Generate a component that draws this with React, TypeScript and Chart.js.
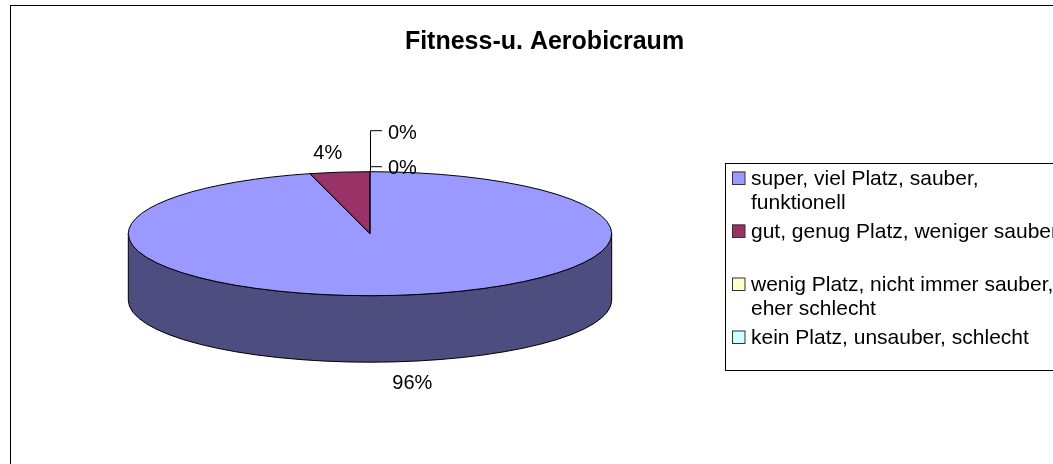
import React, { useEffect, useRef } from "react";
import { Chart, registerables } from "chart.js";

Chart.register(...registerables);

const chartTitle = "Fitness-u. Aerobicraum";
const categories = [
  "super, viel Platz, sauber, funktionell",
  "gut, genug Platz, weniger sauber",
  "wenig Platz, nicht immer sauber, eher schlecht",
  "kein Platz, unsauber, schlecht",
];
const legendLines = [
  ["super, viel Platz, sauber,", "funktionell"],
  ["gut, genug Platz, weniger sauber"],
  ["wenig Platz, nicht immer sauber,", "eher schlecht"],
  ["kein Platz, unsauber, schlecht"],
];
const values = [96, 4, 0, 0];
const percentLabels = ["96%", "4%", "0%", "0%"];
const sliceColors = ["#9999FF", "#993366", "#FFFFCC", "#CCFFFF"];

const FONT = '"Liberation Sans", Arial, sans-serif';
const TILT = 62 / 241.7;
const DEPTH = 66.5;
const TWO_PI = Math.PI * 2;

function shade(hex: string, f: number) {
  const n = parseInt(hex.slice(1), 16);
  const r = Math.round(((n >> 16) & 255) * f);
  const g = Math.round(((n >> 8) & 255) * f);
  const b = Math.round((n & 255) * f);
  return `rgb(${r},${g},${b})`;
}

const pie3d = {
  id: "pie3d",
  beforeDraw(chart: any) {
    const ctx = chart.ctx;
    ctx.save();
    ctx.fillStyle = "#ffffff";
    ctx.fillRect(0, 0, chart.width, chart.height);
    ctx.strokeStyle = "#000000";
    ctx.lineWidth = 1;
    ctx.strokeRect(10.5, 5.5, 1200, 600);
    ctx.restore();
  },
  beforeDatasetsDraw(chart: any) {
    const ctx = chart.ctx;
    const arcs = chart.getDatasetMeta(0).data;
    if (!arcs.length) return;
    const cx = arcs[0].x;
    const cy = arcs[0].y;
    const rx = arcs[0].outerRadius;
    const ry = rx * TILT;
    ctx.save();
    ctx.lineWidth = 1;
    ctx.strokeStyle = "#000000";
    arcs.forEach((arc: any, i: number) => {
      const s = arc.startAngle;
      const e = arc.endAngle;
      if (e - s <= 1e-6) return;
      for (let n = -1; n <= 1; n++) {
        const lo = Math.max(s, n * TWO_PI);
        const hi = Math.min(e, n * TWO_PI + Math.PI);
        if (hi - lo > 1e-6) {
          const a = lo - n * TWO_PI;
          const b = hi - n * TWO_PI;
          ctx.beginPath();
          ctx.moveTo(cx + rx * Math.cos(a), cy + ry * Math.sin(a));
          ctx.ellipse(cx, cy, rx, ry, 0, a, b, false);
          ctx.lineTo(cx + rx * Math.cos(b), cy + ry * Math.sin(b) + DEPTH);
          ctx.ellipse(cx, cy + DEPTH, rx, ry, 0, b, a, true);
          ctx.closePath();
          ctx.fillStyle = shade(sliceColors[i], 0.5);
          ctx.fill();
          ctx.stroke();
        }
      }
    });
    ctx.restore();
    ctx.save();
    ctx.translate(cx, cy);
    ctx.scale(1, TILT);
    ctx.translate(-cx, -cy);
  },
  afterDatasetsDraw(chart: any) {
    const ctx = chart.ctx;
    ctx.restore();
    const arcs = chart.getDatasetMeta(0).data;
    if (!arcs.length) return;
    const cx = arcs[0].x;
    const cy = arcs[0].y;
    const rx = arcs[0].outerRadius;
    const ry = rx * TILT;

    ctx.save();
    ctx.lineWidth = 1;
    ctx.strokeStyle = "#000000";
    arcs.forEach((arc: any) => {
      const s = arc.startAngle;
      const e = arc.endAngle;
      if (e - s <= 1e-6) return;
      ctx.beginPath();
      ctx.moveTo(cx, cy);
      ctx.lineTo(cx + rx * Math.cos(s), cy + ry * Math.sin(s));
      ctx.ellipse(cx, cy, rx, ry, 0, s, e, false);
      ctx.closePath();
      ctx.stroke();
    });

    // percent labels
    ctx.fillStyle = "#000000";
    ctx.font = `20px ${FONT}`;
    ctx.textBaseline = "alphabetic";
    let zeroIdx = 0;
    arcs.forEach((arc: any, i: number) => {
      const s = arc.startAngle;
      const e = arc.endAngle;
      const m = (s + e) / 2;
      const px = cx + rx * Math.cos(m);
      let py = cy + ry * Math.sin(m);
      if (e - s <= 1e-6) {
        ctx.strokeStyle = "#000000";
        ctx.beginPath();
        if (zeroIdx === 0) {
          ctx.moveTo(px + 0.5, py);
          ctx.lineTo(px + 0.5, py - 41);
          ctx.lineTo(px + 12, py - 41);
          ctx.stroke();
          ctx.textAlign = "left";
          ctx.fillText(percentLabels[i], px + 18, py - 33);
        } else {
          ctx.moveTo(px + 0.5, py - 5);
          ctx.lineTo(px + 12, py - 5);
          ctx.stroke();
          ctx.textAlign = "left";
          ctx.fillText(percentLabels[i], px + 18, py + 2);
        }
        zeroIdx++;
        return;
      }
      if (Math.sin(m) > 0) py += DEPTH;
      const lx = px + 12 * Math.sign(Math.cos(m));
      const ly = py + 20 * Math.sign(Math.sin(m));
      ctx.textAlign = "center";
      ctx.fillText(percentLabels[i], lx, ly + 7);
    });

    // title
    ctx.font = `bold 25px ${FONT}`;
    ctx.textAlign = "center";
    ctx.fillText(chartTitle, 544.5, 49);

    // legend
    ctx.strokeStyle = "#000000";
    ctx.lineWidth = 1;
    ctx.strokeRect(725.5, 163.5, 600, 207);
    ctx.font = `21px ${FONT}`;
    ctx.textAlign = "left";
    legendLines.forEach((lines, i) => {
      const y0 = 178 + i * 53;
      ctx.fillStyle = sliceColors[i];
      ctx.fillRect(732, y0 - 6.5, 13, 13);
      ctx.strokeStyle = "#333333";
      ctx.strokeRect(732.5, y0 - 6, 12.5, 12.5);
      ctx.fillStyle = "#000000";
      lines.forEach((t, j) => {
        ctx.fillText(t, 751, y0 + 7 + j * 24);
      });
    });
    ctx.restore();
  },
};

export default function App() {
  const ref = useRef<HTMLCanvasElement>(null);
  useEffect(() => {
    if (!ref.current) return;
    const chart = new Chart(ref.current, {
      type: "pie",
      data: {
        labels: categories,
        datasets: [
          {
            data: values,
            backgroundColor: sliceColors,
            borderWidth: 0,
            radius: 241.7,
            clip: false as any,
          } as any,
        ],
      },
      options: {
        animation: false,
        responsive: false,
        devicePixelRatio: 1,
        events: [],
        rotation: 0,
        layout: { padding: { left: 0, right: 313, top: 4, bottom: 0.6 } },
        plugins: {
          legend: { display: false },
          title: { display: false },
          tooltip: { enabled: false },
        },
      },
      plugins: [pie3d],
    });
    return () => chart.destroy();
  }, []);
  return (
    <div style={{ position: "absolute", left: 0, top: 0, width: 1053, height: 464, overflow: "hidden" }}>
      <canvas ref={ref} width={1053} height={464} style={{ display: "block" }} />
    </div>
  );
}
